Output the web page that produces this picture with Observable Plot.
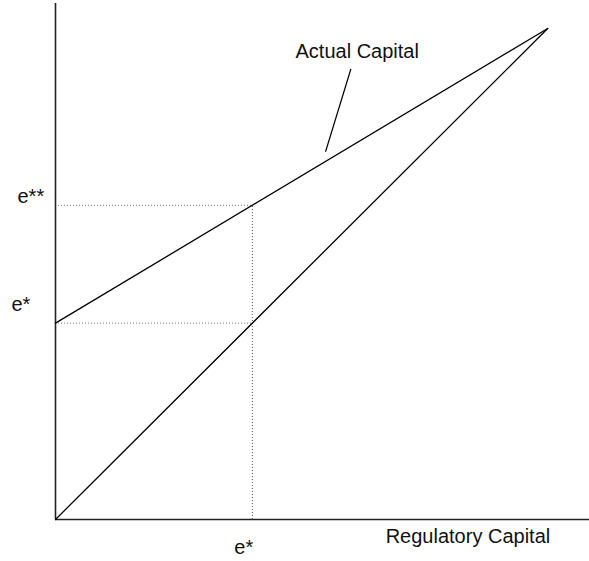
<!DOCTYPE html>
<html>
<head>
<meta charset="utf-8">
<script src="https://cdn.jsdelivr.net/npm/d3@7"></script>
<script src="https://cdn.jsdelivr.net/npm/@observablehq/plot@0.6"></script>
<style>
  html, body { margin: 0; padding: 0; background: #fff; }
  #chart { width: 589px; height: 561px; }
</style>
</head>
<body>
<div id="chart"></div>
<script>
// Regulatory capital (x) values and the two lines
const regulatoryCapital = [0, 1];
const diagonalLine = [0, 1];          // 45-degree line
const actualCapital = [0.4, 1];       // Actual Capital line
const eStar = 0.4;                    // e*
const eStarStar = 0.64;               // e**
const leaderLine = [{x: 0.6, y: 0.917}, {x: 0.549, y: 0.75}];
const actualLabel = {x: 0.613, y: 0.939, text: "Actual Capital"};
const xAxisLabel = {x: 0.838, text: "Regulatory Capital"};

const diag = regulatoryCapital.map((x, i) => ({x, y: diagonalLine[i]}));
const actual = regulatoryCapital.map((x, i) => ({x, y: actualCapital[i]}));

const font = "Liberation Sans, Arial, Helvetica, sans-serif";

const chart = Plot.plot({
  width: 589,
  height: 561,
  marginLeft: 55,
  marginRight: 0,
  marginTop: 3,
  marginBottom: 42,
  x: {domain: [0, 1.085], axis: null},
  y: {domain: [0, 1.051], axis: null},
  style: {fontFamily: font, background: "#fff"},
  marks: [
    // dotted guides
    Plot.ruleY([eStarStar], {x1: 0, x2: eStar, stroke: "#777", strokeDasharray: "1,2", strokeWidth: 1}),
    Plot.ruleY([eStar], {x1: 0, x2: eStar, stroke: "#777", strokeDasharray: "1,2", strokeWidth: 1}),
    Plot.ruleX([eStar], {y1: 0, y2: eStarStar, stroke: "#555", strokeDasharray: "1,2", strokeWidth: 1}),
    // axes
    Plot.ruleX([0], {y1: 0, y2: 1.051, stroke: "#222", strokeWidth: 1.6}),
    Plot.ruleY([0], {x1: 0, x2: 1.085, stroke: "#222", strokeWidth: 1.6}),
    // lines
    Plot.line(diag, {x: "x", y: "y", stroke: "#000", strokeWidth: 1.3}),
    Plot.line(actual, {x: "x", y: "y", stroke: "#000", strokeWidth: 1.3}),
    Plot.line(leaderLine, {x: "x", y: "y", stroke: "#000", strokeWidth: 1.2}),
    // labels
    Plot.text([actualLabel], {x: "x", y: "y", text: "text", fontSize: 20, fill: "#111", lineAnchor: "bottom", textAnchor: "middle"}),
    Plot.text([xAxisLabel], {x: "x", y: () => 0, text: "text", fontSize: 20, fill: "#111", lineAnchor: "bottom", textAnchor: "middle", dy: 23}),
    Plot.text(["e**"], {x: () => 0, y: () => eStarStar, text: d => d, fontSize: 20, fill: "#111", lineAnchor: "bottom", textAnchor: "start", dx: -38, dy: -2}),
    Plot.text(["e*"], {x: () => 0, y: () => eStar, text: d => d, fontSize: 20, fill: "#111", lineAnchor: "bottom", textAnchor: "start", dx: -44, dy: -12}),
    Plot.text(["e*"], {x: () => eStar, y: () => 0, text: d => d, fontSize: 20, fill: "#111", lineAnchor: "bottom", textAnchor: "start", dx: -18, dy: 34})
  ]
});
document.getElementById("chart").appendChild(chart);
</script>
</body>
</html>
